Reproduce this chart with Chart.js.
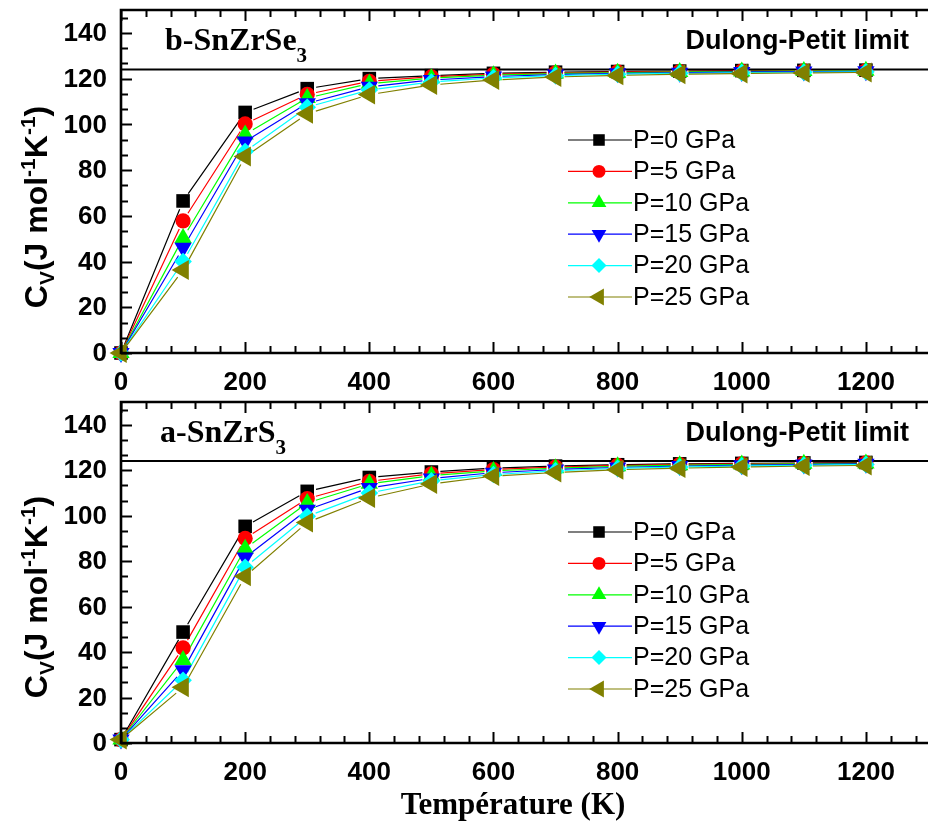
<!DOCTYPE html>
<html>
<head>
<meta charset="utf-8">
<title>Heat capacity Cv vs temperature</title>
<script src="https://cdn.jsdelivr.net/npm/chart.js@4.4.1/dist/chart.umd.min.js"></script>
<style>
  html, body { margin: 0; padding: 0; background: #ffffff; }
  #wrap { position: relative; width: 928px; height: 825px; overflow: hidden; background: #ffffff; }
  canvas { position: absolute; left: 0; }
</style>
</head>
<body>
<div id="wrap">
  <canvas id="cvSe" width="928" height="400" style="top:0px"></canvas>
  <canvas id="cvS" width="928" height="425" style="top:400px"></canvas>
</div>
<script>
// ---- data -----------------------------------------------------------------
const temperatures = [0, 100, 200, 300, 400, 500, 600, 700, 800, 900, 1000, 1100, 1200];
const pressureLabels = ['P=0 GPa', 'P=5 GPa', 'P=10 GPa', 'P=15 GPa', 'P=20 GPa', 'P=25 GPa'];
const xTickValues = [0, 200, 400, 600, 800, 1000, 1200];
const yTickValues = [0, 20, 40, 60, 80, 100, 120, 140];
const dulongPetit = 124;

// b-SnZrSe3, Cv (J mol^-1 K^-1)
const se_P0  = [0, 66.5, 105.2, 115.6, 120.0, 121.3, 122.3, 122.8, 123.1, 123.3, 123.5, 123.6, 123.7];
const se_P5  = [0, 57.8, 100.2, 113.1, 118.8, 120.8, 121.9, 122.5, 122.9, 123.1, 123.3, 123.4, 123.5];
const se_P10 = [0, 50.3,  95.6, 111.5, 117.8, 120.2, 121.5, 122.2, 122.6, 122.9, 123.1, 123.3, 123.4];
const se_P15 = [0, 46.0,  92.5, 109.2, 116.4, 119.4, 120.9, 121.8, 122.3, 122.6, 122.9, 123.1, 123.2];
const se_P20 = [0, 40.0,  88.1, 107.5, 115.0, 118.5, 120.3, 121.3, 121.9, 122.3, 122.6, 122.8, 123.0];
const se_P25 = [0, 36.3,  85.9, 104.6, 113.0, 117.2, 119.4, 120.7, 121.4, 121.9, 122.2, 122.5, 122.7];

// a-SnZrS3, Cv (J mol^-1 K^-1)
const s_P0  = [1.5, 48.8, 95.3, 110.7, 116.8, 119.2, 120.9, 121.8, 122.4, 122.8, 123.0, 123.2, 123.4];
const s_P5  = [1.5, 41.8, 90.0, 107.5, 115.1, 118.4, 120.3, 121.4, 122.1, 122.5, 122.8, 123.0, 123.2];
const s_P10 = [1.5, 36.5, 85.5, 105.6, 114.0, 117.6, 119.7, 120.9, 121.7, 122.2, 122.5, 122.8, 123.0];
const s_P15 = [1.5, 32.0, 81.6, 102.6, 112.2, 116.4, 118.9, 120.3, 121.2, 121.8, 122.2, 122.5, 122.8];
const s_P20 = [1.5, 27.6, 77.3,  99.7, 110.0, 115.3, 118.1, 119.7, 120.8, 121.4, 121.9, 122.2, 122.5];
const s_P25 = [1.5, 24.5, 73.3,  97.0, 107.8, 113.9, 117.4, 119.0, 120.2, 120.9, 121.4, 121.8, 122.1];

// ---- styling ----------------------------------------------------------------
const seriesColors = ['#000000', '#ff0000', '#00ff00', '#0000ff', '#00ffff', '#808000'];
const seriesMarkers = [
  { style: 'rect',     rotation: 0,   radius: 9.6 },
  { style: 'circle',   rotation: 0,   radius: 7.6 },
  { style: 'triangle', rotation: 0,   radius: 10 },
  { style: 'triangle', rotation: 180, radius: 10 },
  { style: 'rectRot',  rotation: 0,   radius: 8.8 },
  { style: 'triangle', rotation: -90, radius: 11.5 }
];
const SANS = '"Liberation Sans", Arial, Helvetica, sans-serif';
const SERIF = '"Liberation Serif", "Times New Roman", Times, serif';

function buildDatasets(seriesList) {
  return seriesList.map((vals, i) => ({
    label: pressureLabels[i],
    data: temperatures.map((t, k) => ({ x: t, y: vals[k] })),
    showLine: false,
    clip: false,
    order: seriesList.length - 1 - i,
    pointStyle: seriesMarkers[i].style,
    pointRotation: seriesMarkers[i].rotation,
    pointRadius: seriesMarkers[i].radius,
    pointBackgroundColor: seriesColors[i],
    pointBorderColor: seriesColors[i],
    pointBorderWidth: 0,
    pointHoverRadius: seriesMarkers[i].radius
  }));
}

// connecting lines that stop short of each marker
const gappedLines = {
  id: 'gappedLines',
  beforeDatasetsDraw(chart) {
    const ctx = chart.ctx;
    const gap = 9;
    ctx.save();
    // Dulong-Petit reference line
    const ys = chart.scales.y;
    const ca = chart.chartArea;
    const yDP = ys.getPixelForValue(dulongPetit);
    ctx.strokeStyle = '#000';
    ctx.lineWidth = 2;
    ctx.beginPath();
    ctx.moveTo(ca.left, yDP);
    ctx.lineTo(ca.right, yDP);
    ctx.stroke();

    chart.data.datasets.forEach((ds, di) => {
      const meta = chart.getDatasetMeta(di);
      ctx.strokeStyle = seriesColors[di];
      ctx.lineWidth = 1.2;
      ctx.beginPath();
      for (let i = 0; i < meta.data.length - 1; i++) {
        const a = meta.data[i], b = meta.data[i + 1];
        const dx = b.x - a.x, dy = b.y - a.y;
        const len = Math.hypot(dx, dy);
        if (len <= 2 * gap) continue;
        const ux = dx / len, uy = dy / len;
        ctx.moveTo(a.x + ux * gap, a.y + uy * gap);
        ctx.lineTo(b.x - ux * gap, b.y - uy * gap);
      }
      ctx.stroke();
    });
    ctx.restore();
  }
};

function drawMarker(ctx, idx, x, y, scale) {
  const m = seriesMarkers[idx];
  ctx.fillStyle = seriesColors[idx];
  ctx.strokeStyle = seriesColors[idx];
  Chart.helpers.drawPoint(ctx, { pointStyle: m.style, rotation: m.rotation, radius: m.radius * scale, borderWidth: 0 }, x, y);
}

// frame, ticks, tick labels, titles, legend
function makeDecor(opts) {
  return {
    id: 'decor',
    afterDraw(chart) {
      const ctx = chart.ctx;
      const ca = chart.chartArea;
      const xs = chart.scales.x, ys = chart.scales.y;
      ctx.save();
      ctx.strokeStyle = '#000';
      ctx.fillStyle = '#000';

      // frame
      ctx.lineWidth = 2.6;
      ctx.beginPath();
      ctx.moveTo(ca.right + 2, ca.top);
      ctx.lineTo(ca.left, ca.top);
      ctx.lineTo(ca.left, ca.bottom);
      ctx.lineTo(ca.right + 2, ca.bottom);
      ctx.stroke();

      // x ticks (bottom and top, pointing inward)
      ctx.lineWidth = 2;
      for (let t = 0; t <= 1300 + 1e-6; t += 40) {
        const major = Math.abs(t % 200) < 1e-6;
        const len = major ? 11 : 7;
        const px = Math.round(xs.getPixelForValue(t)) + 0.5;
        if (px > ca.right - 1) continue;
        ctx.beginPath();
        ctx.moveTo(px, ca.bottom);
        ctx.lineTo(px, ca.bottom - len);
        ctx.moveTo(px, ca.top);
        ctx.lineTo(px, ca.top + len);
        ctx.stroke();
      }
      // y ticks (left, pointing inward)
      for (let k = 0; k <= 22; k++) {
        const v = k * 20 / 3;
        if (v > 150 + 1e-6) break;
        const major = k % 3 === 0;
        const len = major ? 11 : 7;
        const py = Math.round(ys.getPixelForValue(v)) + 0.5;
        ctx.beginPath();
        ctx.moveTo(ca.left, py);
        ctx.lineTo(ca.left + len, py);
        ctx.stroke();
      }

      // tick labels
      ctx.font = 'bold 26px ' + SANS;
      ctx.textAlign = 'center';
      ctx.textBaseline = 'middle';
      xTickValues.forEach(v => {
        ctx.fillText(String(v), xs.getPixelForValue(v), ca.bottom + 30);
      });
      ctx.textAlign = 'right';
      yTickValues.forEach(v => {
        ctx.fillText(String(v), ca.left - 14, ys.getPixelForValue(v) + 1);
      });

      // y axis title: C_V(J mol^-1K^-1)
      ctx.save();
      ctx.translate(36, opts.yTitleCenter);
      ctx.rotate(-Math.PI / 2);
      const big = 'bold 32px ' + SANS, small = 'bold 21px ' + SANS;
      const parts = [
        { t: 'C', f: big, dy: 0 },
        { t: 'V', f: small, dy: 7 },
        { t: '(J mol', f: big, dy: 0 },
        { t: '-1', f: small, dy: -12 },
        { t: 'K', f: big, dy: 0 },
        { t: '-1', f: small, dy: -12 },
        { t: ')', f: big, dy: 0 }
      ];
      let total = 0;
      parts.forEach(p => { ctx.font = p.f; p.w = ctx.measureText(p.t).width; total += p.w; });
      let cx = -total / 2;
      ctx.textAlign = 'left';
      ctx.textBaseline = 'alphabetic';
      parts.forEach(p => { ctx.font = p.f; ctx.fillText(p.t, cx, 11 + p.dy); cx += p.w; });
      ctx.restore();

      // compound label
      ctx.textAlign = 'left';
      ctx.textBaseline = 'alphabetic';
      ctx.font = 'bold 32px ' + SERIF;
      ctx.fillText(opts.compound, opts.compoundX, ca.top + opts.compoundBase);
      const cw = ctx.measureText(opts.compound).width;
      ctx.font = 'bold 21px ' + SERIF;
      ctx.fillText('3', opts.compoundX + cw, ca.top + opts.compoundBase + 12);

      // Dulong-Petit caption
      ctx.font = 'bold 27px ' + SANS;
      ctx.textAlign = 'right';
      ctx.fillText('Dulong-Petit limit', 909, ca.top + 39);

      // legend
      ctx.font = '25px ' + SANS;
      ctx.textAlign = 'left';
      ctx.textBaseline = 'middle';
      for (let i = 0; i < pressureLabels.length; i++) {
        const ry = ca.top + 130 + i * 31.4;
        ctx.strokeStyle = seriesColors[i];
        ctx.lineWidth = 1.2;
        ctx.beginPath();
        ctx.moveTo(568, ry);
        ctx.lineTo(632, ry);
        ctx.stroke();
        drawMarker(ctx, i, 599, ry, 0.85);
        ctx.fillStyle = '#000';
        ctx.fillText(pressureLabels[i], 633, ry + 1);
      }

      // x axis title
      if (opts.xTitle) {
        ctx.font = 'bold 31px ' + SERIF;
        ctx.textAlign = 'center';
        ctx.textBaseline = 'alphabetic';
        ctx.fillStyle = '#000';
        ctx.fillText(opts.xTitle, 513, ca.bottom + 71);
      }
      ctx.restore();
    }
  };
}

function makeChart(canvasId, seriesList, padding, decorOpts) {
  return new Chart(document.getElementById(canvasId), {
    type: 'line',
    data: { datasets: buildDatasets(seriesList) },
    options: {
      responsive: false,
      animation: false,
      devicePixelRatio: 1,
      layout: { padding: padding, autoPadding: false },
      plugins: { legend: { display: false }, tooltip: { enabled: false } },
      events: [],
      scales: {
        x: { type: 'linear', min: 0, max: 1300, display: false },
        y: { type: 'linear', min: 0, max: 150, display: false }
      }
    },
    plugins: [gappedLines, makeDecor(decorOpts)]
  });
}

makeChart('cvSe',
  [se_P0, se_P5, se_P10, se_P15, se_P20, se_P25],
  { left: 121, right: 0, top: 10, bottom: 47 },
  { compound: 'b-SnZrSe', compoundX: 165, compoundBase: 40, yTitleCenter: 207 });

makeChart('cvS',
  [s_P0, s_P5, s_P10, s_P15, s_P20, s_P25],
  { left: 121, right: 0, top: 2, bottom: 82 },
  { compound: 'a-SnZrS', compoundX: 160, compoundBase: 40, yTitleCenter: 197, xTitle: 'Température (K)' });
</script>
</body>
</html>
